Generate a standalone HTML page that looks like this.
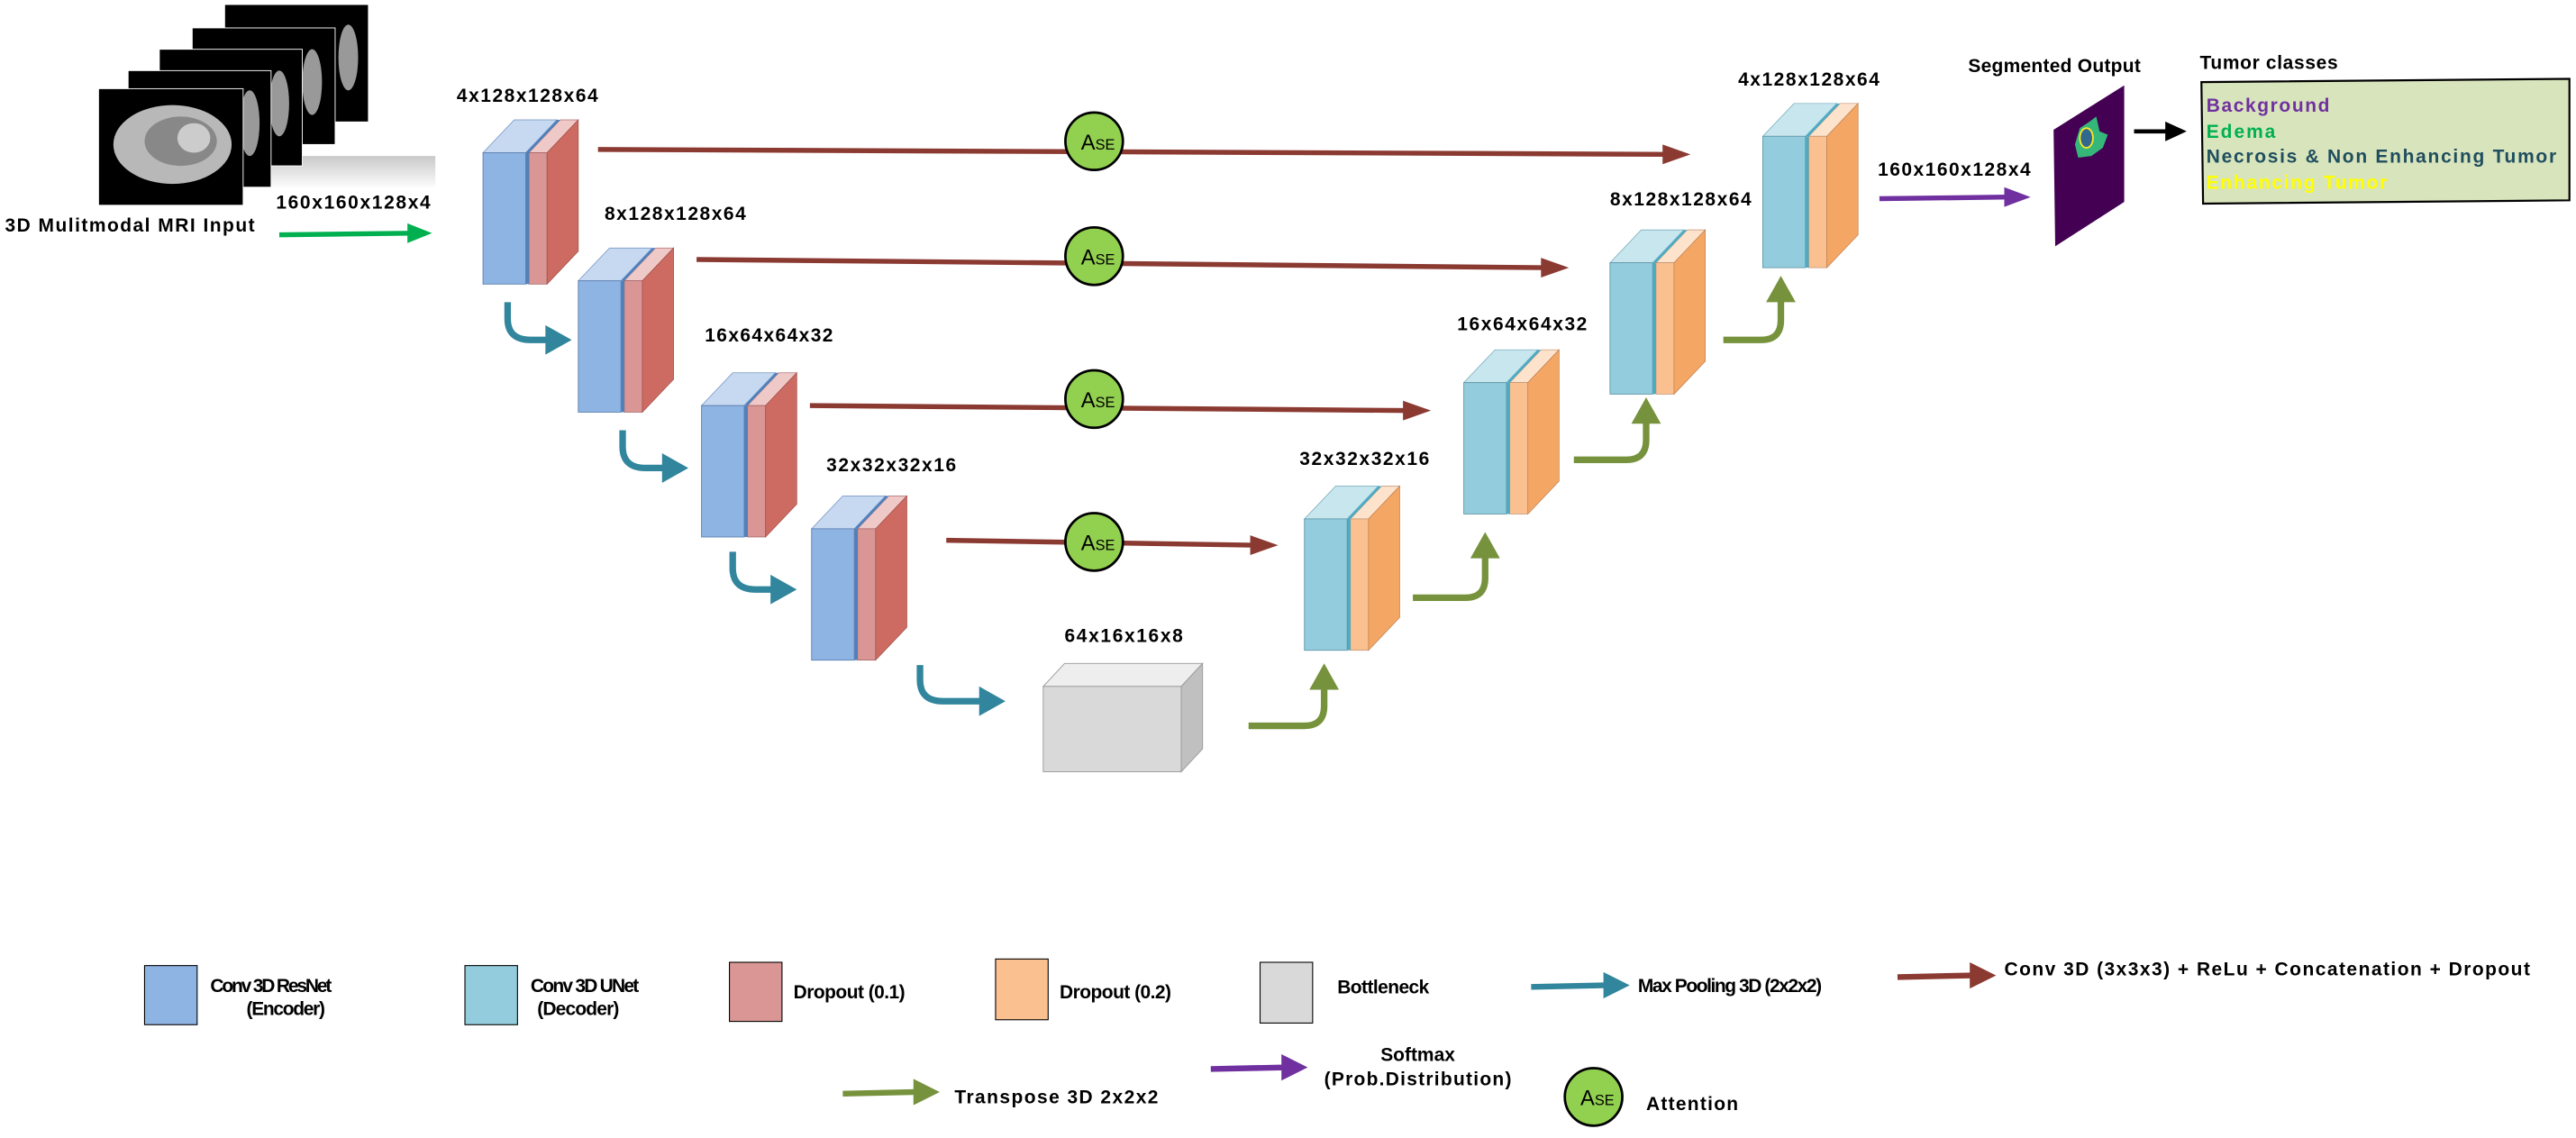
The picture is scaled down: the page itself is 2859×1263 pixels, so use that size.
<!DOCTYPE html>
<html><head><meta charset="utf-8"><style>
html,body{margin:0;padding:0;background:#fff;}
svg{display:block;}
text{font-family:"Liberation Sans",sans-serif;font-weight:bold;fill:#000;}
</style></head><body>
<svg width="2859" height="1263" viewBox="0 0 1568 693" preserveAspectRatio="none" xmlns="http://www.w3.org/2000/svg">
<defs>
<linearGradient id="sh" x1="0" y1="0" x2="0" y2="1"><stop offset="0" stop-color="#bbb"/><stop offset="1" stop-color="#fff"/></linearGradient>
<g id="enc">
 <polygon points="28,0 39,0 58,-20 47,-20" fill="#efc9c8" stroke="#b07070" stroke-width="0.4"/>
 <rect x="28" y="0" width="11" height="80" fill="#d99694" stroke="#a06060" stroke-width="0.4"/>
 <polygon points="39,0 58,-20 58,60 39,80" fill="#cd6b62" stroke="#a05048" stroke-width="0.4"/>
 <polygon points="0,0 26,0 45,-20 19,-20" fill="#c6d9f1" stroke="#7090c0" stroke-width="0.4"/>
 <polygon points="26,0 28,0 47,-20 45,-20" fill="#4f81bd"/>
 <rect x="26" y="0" width="2" height="80" fill="#4f81bd"/>
 <rect x="0" y="0" width="26" height="80" fill="#8eb4e3" stroke="#6080b0" stroke-width="0.5"/>
</g>
<g id="dec">
 <polygon points="28,0 39,0 58,-20 47,-20" fill="#fde3cc" stroke="#c09070" stroke-width="0.4"/>
 <rect x="28" y="0" width="11" height="80" fill="#fac090" stroke="#c09070" stroke-width="0.4"/>
 <polygon points="39,0 58,-20 58,60 39,80" fill="#f4a765" stroke="#c08050" stroke-width="0.4"/>
 <polygon points="0,0 26,0 45,-20 19,-20" fill="#c8e6ee" stroke="#70a8b8" stroke-width="0.4"/>
 <polygon points="26,0 28,0 47,-20 45,-20" fill="#4bacc6"/>
 <rect x="26" y="0" width="2" height="80" fill="#4bacc6"/>
 <rect x="0" y="0" width="26" height="80" fill="#93cddd" stroke="#6098a8" stroke-width="0.5"/>
</g>
<g id="ase">
 <circle cx="0" cy="0" r="17.5" fill="#92d050" stroke="#000" stroke-width="1.5"/>
 <text x="-8" y="5" font-size="13" style="font-weight:normal">A<tspan font-size="9">SE</tspan></text>
</g>
</defs>

<!-- MRI stack -->
<rect x="165" y="95" width="100" height="20" fill="url(#sh)" opacity="0.8"/>
<rect x="137" y="3" width="87" height="71" fill="#000"/>
<ellipse cx="212" cy="35" rx="6" ry="20" fill="#999"/>
<rect x="117" y="17" width="87" height="71" fill="#000" stroke="#fff" stroke-width="0.5"/>
<ellipse cx="190" cy="50" rx="6" ry="20" fill="#999"/>
<rect x="97" y="30" width="87" height="71" fill="#000" stroke="#fff" stroke-width="0.5"/>
<ellipse cx="170" cy="63" rx="6" ry="20" fill="#999"/>
<rect x="78" y="43" width="87" height="71" fill="#000" stroke="#fff" stroke-width="0.5"/>
<ellipse cx="152" cy="75" rx="6" ry="20" fill="#999"/>
<rect x="60" y="54" width="88" height="71" fill="#000" stroke="#fff" stroke-width="0.5"/>
<ellipse cx="105" cy="88" rx="36" ry="24" fill="#b8b8b8"/>
<ellipse cx="110" cy="86" rx="22" ry="15" fill="#888"/>
<ellipse cx="118" cy="84" rx="10" ry="9" fill="#ccc"/>
<text x="3" y="141" font-size="11.5" textLength="152">3D Mulitmodal MRI Input</text>
<text x="168" y="127" font-size="11.5" textLength="94">160x160x128x4</text>
<line x1="170" y1="143" x2="250" y2="142" stroke="#00b050" stroke-width="3"/>
<polygon points="248,136 263,142 248,148" fill="#00b050"/>

<!-- skip connections -->
<g stroke="#8b3a32" stroke-width="3">
<line x1="364" y1="91" x2="1014" y2="94"/>
<line x1="424" y1="158" x2="940" y2="163"/>
<line x1="493" y1="247" x2="856" y2="250"/>
<line x1="576" y1="329" x2="763" y2="332"/>
</g>
<g fill="#8b3a32">
<polygon points="1012,88 1029,94 1012,100"/>
<polygon points="938,157 955,163 938,169"/>
<polygon points="854,244 871,250 854,256"/>
<polygon points="761,326 778,332 761,338"/>
</g>
<use href="#ase" x="666" y="86"/>
<use href="#ase" x="666" y="156"/>
<use href="#ase" x="666" y="243"/>
<use href="#ase" x="666" y="330"/>

<!-- encoder -->
<use href="#enc" x="294" y="93"/>
<use href="#enc" x="352" y="171"/>
<use href="#enc" x="427" y="247"/>
<use href="#enc" x="494" y="322"/>
<text x="278" y="62" font-size="11.5" textLength="86">4x128x128x64</text>
<text x="368" y="134" font-size="11.5" textLength="86">8x128x128x64</text>
<text x="429" y="208" font-size="11.5" textLength="78">16x64x64x32</text>
<text x="503" y="287" font-size="11.5" textLength="79">32x32x32x16</text>

<!-- bottleneck -->
<polygon points="635,418 648,404 732,404 719,418" fill="#eeeeee" stroke="#999" stroke-width="0.5"/>
<polygon points="719,418 732,404 732,456 719,470" fill="#c0c0c0" stroke="#999" stroke-width="0.5"/>
<rect x="635" y="418" width="84" height="52" fill="#d9d9d9" stroke="#999" stroke-width="0.5"/>
<text x="648" y="391" font-size="11.5" textLength="72">64x16x16x8</text>

<!-- teal pooling arrows -->
<g fill="none" stroke="#31859c" stroke-width="4">
<path d="M309,184 V194 Q309,207 323,207 H334"/>
<path d="M379,262 V272 Q379,285 393,285 H405"/>
<path d="M446,336 V346 Q446,359 460,359 H471"/>
<path d="M560,405 V414 Q560,427 574,427 H598"/>
</g>
<g fill="#31859c">
<polygon points="332,198 348,207 332,216"/>
<polygon points="403,276 419,285 403,294"/>
<polygon points="469,350 485,359 469,368"/>
<polygon points="596,418 612,427 596,436"/>
</g>

<!-- decoder -->
<use href="#dec" x="794" y="316"/>
<use href="#dec" x="891" y="233"/>
<use href="#dec" x="980" y="160"/>
<use href="#dec" x="1073" y="83"/>
<text x="791" y="283" font-size="11.5" textLength="79">32x32x32x16</text>
<text x="887" y="201" font-size="11.5" textLength="79">16x64x64x32</text>
<text x="980" y="125" font-size="11.5" textLength="86">8x128x128x64</text>
<text x="1058" y="52" font-size="11.5" textLength="86">4x128x128x64</text>

<!-- green transpose arrows -->
<g fill="none" stroke="#76923c" stroke-width="4">
<path d="M760,442 H794 Q806,442 806,430 V418"/>
<path d="M860,364 H892 Q904,364 904,352 V338"/>
<path d="M958,280 H990 Q1002,280 1002,268 V256"/>
<path d="M1049,207 H1072 Q1084,207 1084,195 V182"/>
</g>
<g fill="#76923c">
<polygon points="797,420 806,404 815,420"/>
<polygon points="895,340 904,324 913,340"/>
<polygon points="993,258 1002,242 1011,258"/>
<polygon points="1075,184 1084,168 1093,184"/>
</g>

<!-- output -->
<text x="1143" y="107" font-size="11.5" textLength="93">160x160x128x4</text>
<line x1="1144" y1="121" x2="1222" y2="120" stroke="#7030a0" stroke-width="3"/>
<polygon points="1220,114 1236,120 1220,126" fill="#7030a0"/>
<polygon points="1250,79 1293,52 1293,123 1251,150" fill="#440154"/>
<path d="M1266,78 L1272,74 L1276,71 L1278,80 L1283,82 L1280,90 L1273,95 L1265,96 L1263,88 Z" fill="#35b779"/>
<ellipse cx="1270" cy="84" rx="4" ry="6" fill="#31688e" stroke="#fde725" stroke-width="1"/>
<text x="1198" y="44" font-size="11.5" textLength="105">Segmented Output</text>
<line x1="1299" y1="80" x2="1320" y2="80" stroke="#000" stroke-width="2.5"/>
<polygon points="1318,74 1331,80 1318,86" fill="#000"/>
<text x="1339" y="42" font-size="11.5" textLength="84">Tumor classes</text>
<polygon points="1340,50 1564,48 1564,122 1341,124" fill="#d8e4bc" stroke="#000" stroke-width="1.2"/>
<text x="1343" y="68" font-size="11.5" textLength="75" style="fill:#7030a0">Background</text>
<text x="1343" y="84" font-size="11.5" textLength="42" style="fill:#00b050">Edema</text>
<text x="1343" y="99" font-size="11.5" textLength="213" style="fill:#1f4e5f">Necrosis &amp; Non Enhancing Tumor</text>
<text x="1343" y="115" font-size="11.5" textLength="110" style="fill:#ffff00">Enhancing Tumor</text>

<!-- legend row 1 -->
<rect x="88" y="588" width="32" height="36" fill="#8eb4e3" stroke="#000" stroke-width="0.6"/>
<text x="128" y="604" font-size="11.5" textLength="74">Conv 3D ResNet</text>
<text x="150" y="618" font-size="11.5" textLength="48">(Encoder)</text>
<rect x="283" y="588" width="32" height="36" fill="#93cddd" stroke="#000" stroke-width="0.6"/>
<text x="323" y="604" font-size="11.5" textLength="66">Conv 3D UNet</text>
<text x="327" y="618" font-size="11.5" textLength="50">(Decoder)</text>
<rect x="444" y="586" width="32" height="36" fill="#d99694" stroke="#000" stroke-width="0.6"/>
<text x="483" y="608" font-size="11.5" textLength="68">Dropout (0.1)</text>
<rect x="606" y="584" width="32" height="37" fill="#fac090" stroke="#000" stroke-width="0.6"/>
<text x="645" y="608" font-size="11.5" textLength="68">Dropout (0.2)</text>
<rect x="767" y="586" width="32" height="37" fill="#d9d9d9" stroke="#000" stroke-width="0.6"/>
<text x="814" y="605" font-size="11.5" textLength="56">Bottleneck</text>
<line x1="932" y1="601" x2="978" y2="600" stroke="#31859c" stroke-width="3.5"/>
<polygon points="976,592 992,600 976,608" fill="#31859c"/>
<text x="997" y="604" font-size="11.5" textLength="112">Max Pooling 3D (2x2x2)</text>
<line x1="1155" y1="595" x2="1201" y2="594" stroke="#8b3a32" stroke-width="3.5"/>
<polygon points="1199,586 1215,594 1199,602" fill="#8b3a32"/>
<text x="1220" y="594" font-size="11.5" textLength="320">Conv 3D (3x3x3) + ReLu + Concatenation + Dropout</text>

<!-- legend row 2 -->
<line x1="513" y1="666" x2="558" y2="665" stroke="#76923c" stroke-width="3.5"/>
<polygon points="556,657 572,665 556,673" fill="#76923c"/>
<text x="581" y="672" font-size="11.5" textLength="124">Transpose 3D 2x2x2</text>
<line x1="737" y1="651" x2="782" y2="650" stroke="#7030a0" stroke-width="3.5"/>
<polygon points="780,642 796,650 780,658" fill="#7030a0"/>
<text x="863" y="646" font-size="11.5" text-anchor="middle">Softmax</text>
<text x="863" y="661" font-size="11.5" text-anchor="middle" textLength="114">(Prob.Distribution)</text>
<use href="#ase" x="970" y="668"/>
<text x="1002" y="676" font-size="11.5" textLength="56">Attention</text>
</svg>
</body></html>
